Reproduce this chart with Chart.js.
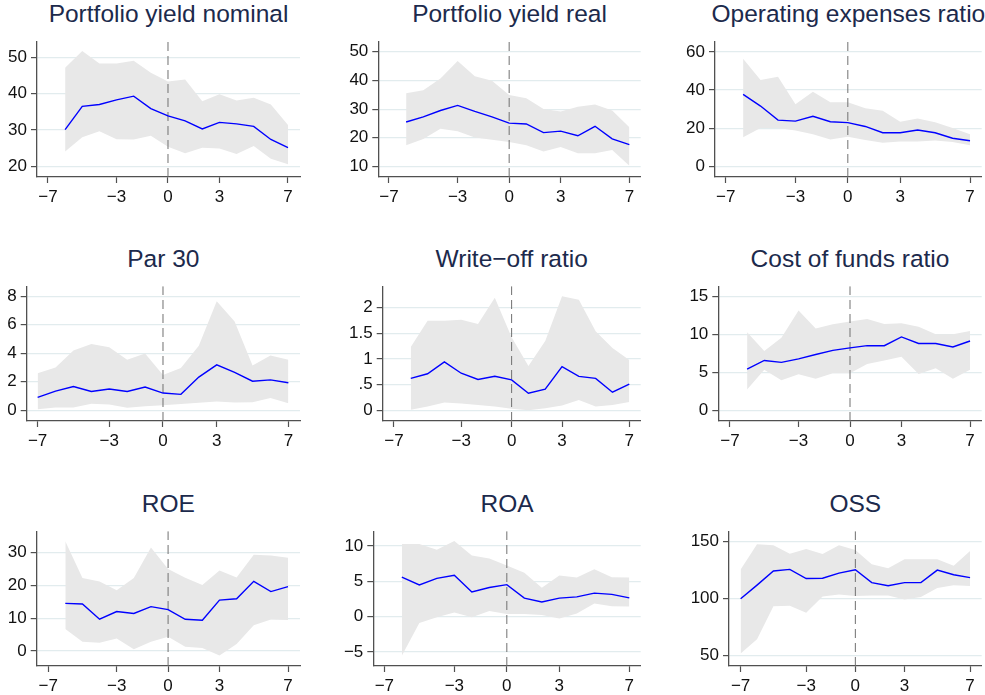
<!DOCTYPE html>
<html><head><meta charset="utf-8">
<script src="https://cdn.jsdelivr.net/npm/chart.js@4.4.1/dist/chart.umd.min.js"></script>
<style>
html,body{margin:0;padding:0;background:#fff;width:985px;height:695px;overflow:hidden;position:relative;font-family:"Liberation Sans",Arial,Helvetica,sans-serif;}
canvas{position:absolute;}
.ttl{position:absolute;font-size:24.5px;line-height:24.5px;color:#1c2a4c;white-space:nowrap;transform:translateX(-50%);z-index:2;}
</style></head><body>
<script>
// ---------- data ----------
const years6 = [-6,-5,-4,-3,-2,-1,0,1,2,3,4,5,6,7];
const years7 = [-7,-6,-5,-4,-3,-2,-1,0,1,2,3,4,5,6,7];
const xTicks = [-7,-3,0,3,7];
const xTickLabels = ['\u22127','\u22123','0','3','7'];

const titles = ['Portfolio yield nominal','Portfolio yield real','Operating expenses ratio',
                'Par 30','Write\u2212off ratio','Cost of funds ratio','ROE','ROA','OSS'];

const nominalMean = [30.1,36.5,37.0,38.3,39.3,35.9,33.9,32.5,30.3,32.1,31.7,31.0,27.4,25.2];
const nominalHi   = [47.1,51.7,48.3,48.3,49.0,45.7,43.3,43.9,37.9,39.8,38.1,38.9,37.0,31.4];
const nominalLo   = [24.1,28.0,29.7,27.5,27.4,28.4,25.4,23.6,25.1,24.9,23.4,25.6,22.1,20.6];

const realMean = [25.5,27.3,29.5,31.3,29.2,27.3,25.1,24.8,21.8,22.3,20.7,24.0,19.6,17.6];
const realHi   = [35.5,36.6,40.7,46.8,41.5,39.9,34.9,33.8,30.0,29.2,30.8,31.6,29.5,23.7];
const realLo   = [17.4,19.6,23.1,22.3,20.1,19.3,18.5,17.4,15.2,16.8,14.6,14.6,15.7,10.2];

const opexMean = [37.7,31.6,24.2,23.7,26.2,23.4,22.9,20.9,17.6,17.6,19.0,17.6,14.7,13.4];
const opexHi   = [56.4,45.3,47.0,32.5,39.1,33.6,33.6,30.5,29.2,23.4,25.1,23.1,20.1,16.8];
const opexLo   = [15.2,20.1,20.1,18.8,16.8,14.0,15.5,13.8,12.4,13.0,13.0,13.5,12.7,11.0];

const par30Mean = [0.90,1.34,1.67,1.32,1.49,1.32,1.63,1.21,1.12,2.33,3.19,2.66,2.04,2.13,1.93];
const par30Hi   = [2.60,3.00,4.20,4.64,4.42,3.54,3.98,2.48,2.97,4.53,7.65,6.22,3.14,3.85,3.54];
const par30Lo   = [0.07,0.20,0.20,0.46,0.40,0.18,0.29,0.35,0.44,0.53,0.62,0.55,0.57,0.86,0.50];

const writeoffMean = [0.62,0.71,0.94,0.72,0.60,0.66,0.59,0.33,0.41,0.85,0.66,0.62,0.35,0.51];
const writeoffHi   = [1.23,1.74,1.74,1.76,1.68,2.19,1.42,0.86,1.35,2.22,2.15,1.54,1.21,0.98];
const writeoffLo   = [0.01,0.07,0.15,0.13,0.10,0.07,0.03,0.00,0.04,0.09,0.20,0.07,0.10,0.16];

const costMean = [5.40,6.55,6.30,6.76,7.33,7.87,8.20,8.49,8.49,9.64,8.78,8.78,8.32,9.10];
const costHi   = [10.26,7.79,9.52,13.10,10.75,11.29,11.66,11.99,11.33,11.45,10.96,10.00,10.00,10.42];
const costLo   = [2.72,5.32,3.96,4.74,4.16,4.86,4.86,6.10,6.55,7.05,4.78,5.52,4.16,5.32];

const roeMean = [14.5,14.3,9.65,12.0,11.4,13.5,12.6,9.65,9.36,15.5,15.9,21.2,18.1,19.6];
const roeHi   = [33.4,22.2,21.2,18.5,22.2,31.5,25.0,22.3,20.1,24.5,22.4,29.3,29.1,28.4];
const roeLo   = [6.7,2.77,2.48,3.82,0.48,2.77,4.3,1.24,0.86,-1.43,2.1,7.83,9.55,9.46];

const roaMean = [5.60,4.48,5.42,5.86,3.50,4.13,4.53,2.61,2.08,2.61,2.79,3.32,3.15,2.66];
const roaHi   = [10.27,10.27,9.47,10.71,8.66,8.22,7.24,6.22,4.08,5.82,5.55,6.71,5.59,5.55];
const roaLo   = [-5.53,-0.89,-0.09,0.58,-0.09,0.80,0.36,0.36,0.22,-0.27,0.45,1.86,1.47,1.42];

const ossMean = [99.5,111.5,123.9,125.3,117.3,117.6,122.0,125.0,113.7,111.0,113.7,113.7,124.7,120.6,118.1];
const ossHi   = [125.3,147.3,146.4,139.0,143.1,138.7,146.4,142.3,129.9,126.4,134.1,134.1,134.1,128.6,141.5];
const ossLo   = [51.6,64.0,92.9,93.4,87.4,101.6,103.3,101.9,102.5,102.5,98.9,101.1,109.1,111.5,110.7];

const yTicksNominal = [20,30,40,50];      const yLabelsNominal = ['20','30','40','50'];
const yTicksReal = [10,20,30,40,50];      const yLabelsReal = ['10','20','30','40','50'];
const yTicksOpex = [0,20,40,60];          const yLabelsOpex = ['0','20','40','60'];
const yTicksPar = [0,2,4,6,8];            const yLabelsPar = ['0','2','4','6','8'];
const yTicksWo = [0,0.5,1,1.5,2];         const yLabelsWo = ['0','.5','1','1.5','2'];
const yTicksCost = [0,5,10,15];           const yLabelsCost = ['0','5','10','15'];
const yTicksRoe = [0,10,20,30];           const yLabelsRoe = ['0','10','20','30'];
const yTicksRoa = [-5,0,5,10];            const yLabelsRoa = ['\u22125','0','5','10'];
const yTicksOss = [50,100,150];           const yLabelsOss = ['50','100','150'];

// ---------- layout (pixel geometry of each panel) ----------
const panels = [
  {t:0, x:years6, m:nominalMean, hi:nominalHi, lo:nominalLo, yt:yTicksNominal, yl:yLabelsNominal, ymin:17.1, ymax:54.4, xmin:-7.64, xmax:7.70, L:37,    R:300,   T:33,    B:177,   cl:0,   cw:320},
  {t:1, x:years6, m:realMean,    hi:realHi,    lo:realLo,    yt:yTicksReal,    yl:yLabelsReal,    ymin:6.3,  ymax:53.7, xmin:-7.62, xmax:7.66, L:378.3, R:640.7, T:33,    B:177,   cl:330, cw:320},
  {t:2, x:years6, m:opexMean,    hi:opexHi,    lo:opexLo,    yt:yTicksOpex,    yl:yLabelsOpex,    ymin:-5.6, ymax:65.6, xmin:-7.61, xmax:7.67, L:715,   R:981.7, T:33,    B:177,   cl:655, cw:330},
  {t:3, x:years7, m:par30Mean,   hi:par30Hi,   lo:par30Lo,   yt:yTicksPar,     yl:yLabelsPar,     ymin:-0.75,ymax:8.7,  xmin:-7.61, xmax:7.65, L:26.7,  R:300,   T:278.3, B:421.7, cl:0,   cw:320},
  {t:4, x:years6, m:writeoffMean,hi:writeoffHi,lo:writeoffLo,yt:yTicksWo,      yl:yLabelsWo,      ymin:-0.21,ymax:2.415,xmin:-7.67, xmax:7.68, L:382.7, R:640.7, T:278.3, B:421.7, cl:330, cw:320},
  {t:5, x:years6, m:costMean,    hi:costHi,    lo:costLo,    yt:yTicksCost,    yl:yLabelsCost,    ymin:-1.4, ymax:16.3, xmin:-7.68, xmax:7.68, L:718.3, R:981.7, T:278.3, B:421.7, cl:655, cw:330},
  {t:6, x:years6, m:roeMean,     hi:roeHi,     lo:roeLo,     yt:yTicksRoe,     yl:yLabelsRoe,     ymin:-4.6, ymax:36.5, xmin:-7.67, xmax:7.70, L:36.7,  R:300,   T:523.3, B:666.7, cl:0,   cw:320},
  {t:7, x:years6, m:roaMean,     hi:roaHi,     lo:roaLo,     yt:yTicksRoa,     yl:yLabelsRoa,     ymin:-7.0, ymax:12.1, xmin:-7.63, xmax:7.65, L:373.3, R:640.7, T:523.3, B:666.7, cl:330, cw:320},
  {t:8, x:years7, m:ossMean,     hi:ossHi,     lo:ossLo,     yt:yTicksOss,     yl:yLabelsOss,     ymin:40.6, ymax:158.8,xmin:-7.71, xmax:7.71, L:729,   R:981.7, T:523.3, B:666.7, cl:655, cw:330}
];
const titleBaselines = [21.7, 267.3, 512.3];

const FONT = '"Liberation Sans", Arial, Helvetica, sans-serif';
const AXIS = '#505050';
const GRID = '#e2ecee';
const TOPPAD = 6, XH = 30;

panels.forEach((p, idx) => {
  const row = Math.floor(idx / 3);
  const div = document.createElement('div');
  div.className = 'ttl';
  div.textContent = titles[p.t];
  div.style.left = ((p.L + p.R) / 2) + 'px';
  div.style.top = (titleBaselines[row] - 20.1) + 'px';
  document.body.appendChild(div);

  const cv = document.createElement('canvas');
  const ct = p.T - TOPPAD;
  const ch = Math.round((p.B - p.T) + TOPPAD + XH);
  cv.style.left = p.cl + 'px';
  cv.style.top = ct + 'px';
  cv.width = p.cw; cv.height = ch;
  cv.style.width = p.cw + 'px'; cv.style.height = ch + 'px';
  document.body.appendChild(cv);

  const pts = arr => p.x.map((x, i) => ({x: x, y: arr[i]}));

  new Chart(cv, {
    type: 'line',
    data: {
      datasets: [
        {label: 'mean', data: pts(p.m), borderColor: '#0000ff', borderWidth: 1.4, pointRadius: 0, fill: false, tension: 0, order: 0},
        {label: 'zero', data: [{x: 0, y: p.ymin}, {x: 0, y: p.ymax}], borderColor: '#707070', borderWidth: 1, borderDash: [9, 5], pointRadius: 0, fill: false, order: 1},
        {label: 'upper', data: pts(p.hi), borderColor: 'rgba(0,0,0,0)', borderWidth: 0, backgroundColor: '#e8e8e8', pointRadius: 0, fill: '+1', tension: 0, order: 2},
        {label: 'lower', data: pts(p.lo), borderColor: 'rgba(0,0,0,0)', borderWidth: 0, pointRadius: 0, fill: false, tension: 0, order: 3}
      ]
    },
    options: {
      responsive: false, animation: false, devicePixelRatio: 1,
      layout: {padding: {top: TOPPAD, right: p.cw - (p.R - p.cl), left: 0, bottom: 0}},
      plugins: {legend: {display: false}, tooltip: {enabled: false}, title: {display: false}},
      scales: {
        x: {
          type: 'linear', min: p.xmin, max: p.xmax,
          afterBuildTicks: s => { s.ticks = xTicks.map(v => ({value: v})); },
          afterFit: s => { s.height = XH; },
          ticks: {autoSkip: false, maxRotation: 0, padding: 4, color: '#111',
                  font: {family: FONT, size: 17},
                  callback: v => xTickLabels[xTicks.indexOf(v)]},
          grid: {drawOnChartArea: false, tickColor: AXIS, tickLength: 6, tickWidth: 1.2},
          border: {color: AXIS, width: 1.3}
        },
        y: {
          min: p.ymin, max: p.ymax,
          afterBuildTicks: s => { s.ticks = p.yt.map(v => ({value: v})); },
          afterFit: s => { s.width = p.L - p.cl; },
          ticks: {autoSkip: false, padding: 4, color: '#111',
                  font: {family: FONT, size: 17},
                  callback: v => p.yl[p.yt.indexOf(v)]},
          grid: {color: GRID, lineWidth: 1.2, tickColor: AXIS, tickLength: 6, tickWidth: 1.2},
          border: {color: AXIS, width: 1.3}
        }
      }
    }
  });
});
</script>
</body></html>
